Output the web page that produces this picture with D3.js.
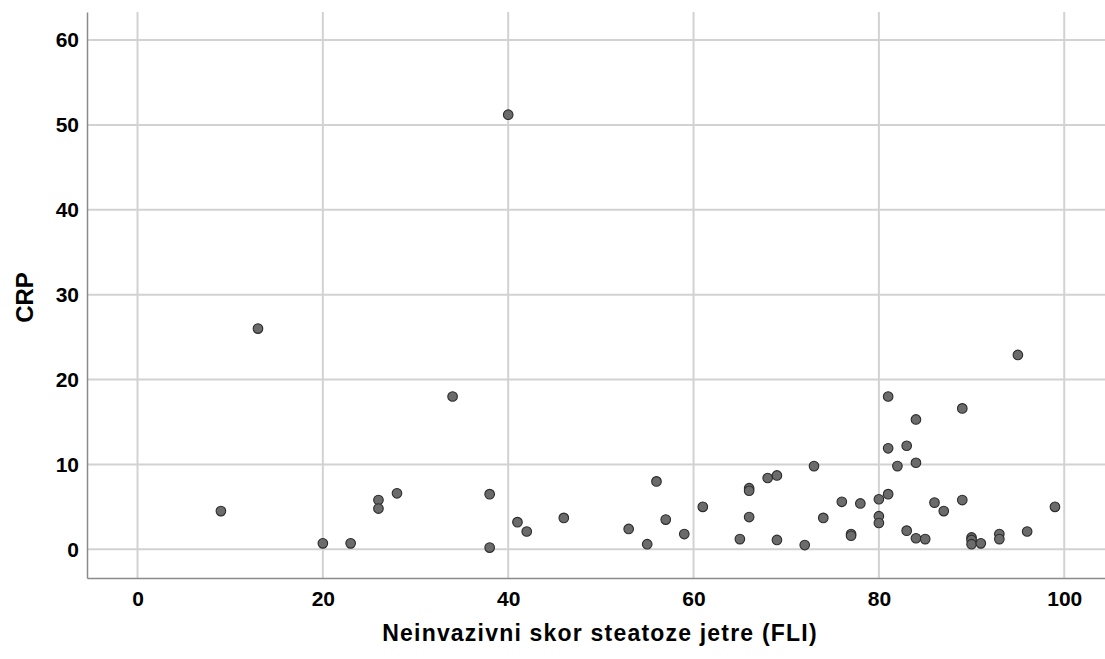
<!DOCTYPE html>
<html>
<head>
<meta charset="utf-8">
<script src="https://cdn.jsdelivr.net/npm/d3@7"></script>
<style>
    body { margin: 0; background: #fff; }
    text { font-family: "Liberation Sans", Arial, sans-serif; font-weight: bold; fill: #000; }
</style>
</head>
<body>
<svg id="chart" width="1105" height="659"></svg>
<script>
// FLI score (x) and CRP (y), one entry per patient
const fli = [9, 13, 20, 23, 26, 26, 28, 34, 38, 38, 40, 41, 42, 46,
    53, 55, 56, 57, 59, 61, 65, 66, 66, 66, 68, 69, 69, 72, 73, 74, 76,
    77, 77, 78, 80, 80, 80, 81, 81, 81, 82, 83, 83, 84, 84, 84, 85, 86,
    87, 89, 89, 90, 90, 90, 91, 93, 93, 95, 96, 99]
const crp = [4.5, 26.0, 0.7, 0.7, 5.8, 4.8, 6.6, 18.0, 6.5, 0.2, 51.2, 3.2, 2.1, 3.7,
    2.4, 0.6, 8.0, 3.5, 1.8, 5.0, 1.2, 7.2, 6.9, 3.8, 8.4, 8.7, 1.1, 0.5, 9.8, 3.7, 5.6,
    1.8, 1.6, 5.4, 5.9, 3.9, 3.1, 18.0, 11.9, 6.5, 9.8, 12.2, 2.2, 15.3, 10.2, 1.3, 1.2, 5.5,
    4.5, 16.6, 5.8, 1.4, 1.1, 0.6, 0.7, 1.8, 1.2, 22.9, 2.1, 5.0]
const xTicks = [0, 20, 40, 60, 80, 100]
const yTicks = [0, 10, 20, 30, 40, 50, 60]
const xTitle = "Neinvazivni skor steatoze jetre (FLI)"
const yTitle = "CRP"

const svg = d3.select("#chart")
const plot = { left: 87, right: 1105, top: 12, bottom: 578 }

const xScale = d3.scaleLinear()
    .domain([-5.45, 104.4])
    .range([plot.left, plot.right])
const yScale = d3.scaleLinear()
    .domain([-3.38, 63.3])
    .range([plot.bottom, plot.top])

// grid
svg.append("g")
    .selectAll("line")
    .data(xTicks)
    .enter()
    .append("line")
    .attr("x1", d => xScale(d))
    .attr("x2", d => xScale(d))
    .attr("y1", plot.top)
    .attr("y2", plot.bottom)
    .attr("stroke", "#d2d2d2")
    .attr("stroke-width", 2)
svg.append("g")
    .selectAll("line")
    .data(yTicks)
    .enter()
    .append("line")
    .attr("x1", plot.left)
    .attr("x2", plot.right)
    .attr("y1", d => yScale(d))
    .attr("y2", d => yScale(d))
    .attr("stroke", "#d2d2d2")
    .attr("stroke-width", 2)

// axes (no tick marks, just line + labels)
const xAxis = svg.append("g")
    .attr("transform", `translate(0,${plot.bottom})`)
    .call(d3.axisBottom(xScale).tickValues(xTicks).tickSize(0).tickPadding(13))
const yAxis = svg.append("g")
    .attr("transform", `translate(${plot.left},0)`)
    .call(d3.axisLeft(yScale).tickValues(yTicks).tickSize(0).tickPadding(8))

;[xAxis, yAxis].forEach(ax => {
    ax.select(".domain").attr("stroke", "#8a8a8a").attr("stroke-width", 1.5)
    ax.selectAll("text")
        .attr("font-family", "Liberation Sans, Arial, sans-serif")
        .attr("font-weight", "bold")
        .attr("font-size", 21)
        .attr("fill", "#000")
})

// points
svg.append("g")
    .selectAll("circle")
    .data(fli)
    .enter()
    .append("circle")
    .attr("cx", d => xScale(d))
    .attr("cy", (d, i) => yScale(crp[i]))
    .attr("r", 4.8)
    .attr("fill", "#6b6b6b")
    .attr("stroke", "#2b2b2b")
    .attr("stroke-width", 1.1)

// titles
svg.append("text")
    .attr("x", 600)
    .attr("y", 641)
    .attr("text-anchor", "middle")
    .attr("font-size", 23)
    .attr("letter-spacing", 1.2)
    .text(xTitle)
svg.append("text")
    .attr("transform", "translate(33,297.5) rotate(-90)")
    .attr("text-anchor", "middle")
    .attr("font-size", 24)
    .text(yTitle)
</script>
</body>
</html>
